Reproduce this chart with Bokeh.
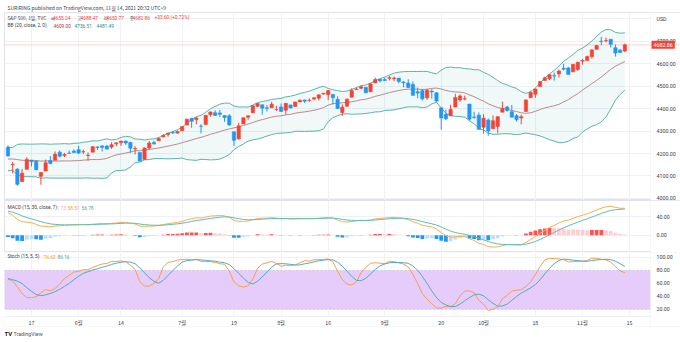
import numpy as np
import pandas as pd
from bokeh.plotting import figure
from bokeh.layouts import column
from bokeh.models import (Range1d, FixedTicker, Span, Label, ColumnDataSource,
                          BoxAnnotation, NumeralTickFormatter)
from bokeh.embed import file_html
from bokeh.resources import INLINE

# ---------------- data: S&P 500 daily, 2021-05-10 .. 2021-11-12 ----------------
dates = ["05-10","05-11","05-12","05-13","05-14","05-17","05-18","05-19","05-20","05-21",
         "05-24","05-25","05-26","05-27","05-28","06-01","06-02","06-03","06-04","06-07",
         "06-08","06-09","06-10","06-11","06-14","06-15","06-16","06-17","06-18","06-21",
         "06-22","06-23","06-24","06-25","06-28","06-29","06-30","07-01","07-02","07-06",
         "07-07","07-08","07-09","07-12","07-13","07-14","07-15","07-16","07-19","07-20",
         "07-21","07-22","07-23","07-26","07-27","07-28","07-29","07-30","08-02","08-03",
         "08-04","08-05","08-06","08-09","08-10","08-11","08-12","08-13","08-16","08-17",
         "08-18","08-19","08-20","08-23","08-24","08-25","08-26","08-27","08-30","08-31",
         "09-01","09-02","09-03","09-07","09-08","09-09","09-10","09-13","09-14","09-15",
         "09-16","09-17","09-20","09-21","09-22","09-23","09-24","09-27","09-28","09-29",
         "09-30","10-01","10-04","10-05","10-06","10-07","10-08","10-11","10-12","10-13",
         "10-14","10-15","10-18","10-19","10-20","10-21","10-22","10-25","10-26","10-27",
         "10-28","10-29","11-01","11-02","11-03","11-04","11-05","11-08","11-09","11-10",
         "11-11","11-12"]

opens = [4228.29,4150.34,4130.55,4074.99,4129.58,4169.92,4165.94,4098.45,4121.97,4168.61,
         4170.16,4205.94,4191.59,4201.94,4210.77,4216.52,4206.82,4191.43,4206.05,4229.34,
         4233.81,4232.99,4228.56,4242.90,4248.31,4255.28,4248.87,4220.37,4204.78,4173.40,
         4224.61,4249.27,4256.97,4274.45,4284.90,4293.21,4290.65,4300.73,4326.60,4356.46,
         4351.01,4321.07,4329.38,4372.41,4381.07,4380.11,4369.02,4367.43,4296.40,4265.11,
         4331.13,4361.27,4381.20,4409.58,4416.38,4402.95,4403.59,4395.12,4406.86,4392.74,
         4415.95,4408.86,4429.07,4437.77,4435.79,4442.18,4446.08,4464.84,4461.65,4462.12,
         4440.94,4382.44,4410.56,4450.29,4484.40,4490.45,4493.75,4474.10,4513.76,4529.75,
         4528.80,4534.48,4532.42,4535.38,4518.09,4513.02,4506.92,4474.81,4479.33,4447.49,
         4477.09,4469.74,4402.95,4374.45,4367.43,4406.75,4438.04,4442.12,4419.54,4362.41,
         4370.67,4317.16,4348.84,4309.87,4319.57,4383.73,4406.51,4385.44,4368.31,4358.01,
         4386.75,4447.69,4463.72,4497.34,4524.42,4532.24,4546.12,4553.69,4578.69,4580.22,
         4562.84,4572.87,4610.62,4613.34,4630.65,4662.93,4699.26,4701.48,4707.25,4670.26,
         4659.39,4655.24]
highs = [4236.39,4162.04,4134.73,4131.58,4183.13,4171.92,4169.15,4116.93,4172.80,4188.72,
         4209.52,4213.42,4202.61,4213.38,4218.36,4234.12,4217.37,4204.39,4233.45,4232.34,
         4236.74,4237.09,4249.74,4248.38,4255.59,4257.16,4251.89,4232.29,4204.78,4226.24,
         4255.84,4256.60,4271.28,4286.12,4292.14,4300.52,4302.43,4320.66,4355.43,4356.46,
         4361.88,4330.88,4371.60,4386.68,4392.37,4393.68,4369.02,4375.09,4296.40,4336.84,
         4359.70,4369.87,4415.18,4422.73,4416.38,4415.47,4429.97,4412.25,4422.18,4423.79,
         4416.17,4429.76,4440.82,4439.39,4445.21,4449.44,4461.77,4468.37,4480.26,4462.12,
         4454.32,4418.61,4444.35,4489.88,4492.81,4501.71,4495.90,4513.33,4537.36,4531.39,
         4537.11,4545.85,4541.45,4535.38,4521.79,4529.90,4520.47,4492.99,4485.68,4486.87,
         4485.87,4471.52,4402.95,4394.87,4416.75,4465.40,4463.12,4457.30,4419.54,4385.57,
         4382.55,4375.19,4355.51,4369.23,4365.57,4429.97,4412.02,4415.88,4374.89,4372.87,
         4439.73,4475.82,4488.75,4520.40,4540.87,4551.44,4559.67,4572.62,4598.53,4584.57,
         4597.55,4608.08,4620.34,4635.15,4663.46,4683.00,4718.50,4714.92,4708.53,4684.85,
         4664.55,4688.47]
lows = [4188.13,4111.53,4056.88,4074.99,4129.58,4142.69,4125.99,4061.41,4121.97,4151.72,
        4170.16,4182.52,4184.11,4197.78,4203.57,4197.59,4198.27,4167.93,4206.05,4215.66,
        4208.41,4218.74,4220.34,4232.25,4234.07,4238.35,4202.45,4196.05,4164.40,4173.40,
        4217.27,4241.43,4256.97,4271.16,4274.67,4286.67,4287.96,4300.73,4326.60,4314.37,
        4329.79,4289.37,4329.38,4364.03,4366.92,4362.36,4340.70,4322.53,4233.13,4262.05,
        4331.13,4350.06,4381.20,4405.45,4372.51,4387.01,4403.59,4389.65,4384.81,4373.00,
        4400.23,4408.86,4429.07,4424.74,4430.03,4436.42,4435.96,4460.82,4437.66,4417.83,
        4397.59,4367.73,4406.80,4450.29,4482.28,4485.66,4468.99,4474.10,4513.76,4515.80,
        4522.02,4524.66,4521.65,4513.00,4493.95,4492.07,4457.66,4445.70,4435.46,4438.37,
        4443.80,4427.76,4305.91,4347.96,4367.43,4406.75,4430.27,4436.19,4346.33,4355.08,
        4306.24,4288.52,4278.94,4309.87,4290.49,4383.73,4386.22,4360.59,4342.09,4329.92,
        4386.75,4447.69,4447.47,4496.41,4524.40,4526.89,4524.00,4537.36,4569.17,4551.66,
        4562.84,4567.59,4595.06,4613.34,4621.19,4662.59,4681.32,4694.39,4670.87,4630.86,
        4648.31,4650.77]
closes = [4188.43,4152.10,4063.04,4112.50,4173.85,4163.29,4127.83,4115.68,4159.12,4155.86,
          4197.05,4188.13,4195.99,4200.88,4204.11,4202.04,4208.12,4192.85,4229.89,4226.52,
          4227.26,4219.55,4239.18,4247.44,4255.15,4246.59,4223.70,4221.86,4166.45,4224.79,
          4246.44,4241.84,4266.49,4280.70,4290.61,4291.80,4297.50,4319.94,4352.34,4343.54,
          4358.13,4320.82,4369.55,4384.63,4369.21,4374.30,4360.03,4327.16,4258.49,4323.06,
          4358.69,4367.48,4411.79,4422.30,4401.46,4400.64,4419.15,4395.26,4387.16,4423.15,
          4402.66,4429.10,4436.52,4432.35,4436.75,4447.70,4460.83,4468.00,4479.71,4448.08,
          4400.27,4405.80,4441.67,4479.53,4486.23,4496.19,4470.00,4509.37,4528.79,4522.68,
          4524.09,4536.95,4535.43,4520.03,4514.07,4493.28,4458.58,4468.73,4443.05,4480.70,
          4473.75,4432.99,4357.73,4354.19,4395.64,4448.98,4455.48,4443.11,4352.63,4359.46,
          4307.54,4357.04,4300.46,4345.72,4363.55,4399.76,4391.34,4361.19,4350.65,4363.80,
          4438.26,4471.37,4486.46,4519.63,4536.19,4549.78,4544.90,4566.48,4574.79,4551.68,
          4596.42,4605.38,4613.67,4630.65,4660.57,4680.06,4697.53,4701.70,4685.25,4646.71,
          4649.27,4682.86]

# history before the first visible bar (indicator warm-up only)
prior_close = [3773.86,3826.31,3830.17,3871.74,3886.83,3915.59,3911.23,3909.88,3916.38,3934.83,
               3932.59,3931.33,3913.97,3906.71,3876.50,3881.37,3925.43,3829.34,3811.15,
               3901.82,3870.29,3819.72,3768.47,3841.94,3821.35,3875.44,3898.81,3939.34,3943.34,
               3968.94,3962.71,3974.12,3915.46,3913.10,3940.59,3910.52,3889.14,3909.52,3974.54,
               3971.09,3958.55,3972.89,
               4019.87,4077.91,4073.94,4079.95,4097.17,4128.80,4127.99,4141.59,4124.66,4170.42,
               4185.47,4163.26,4134.94,4173.42,4134.98,4180.17,4187.62,4186.72,4183.18,4211.47,
               4181.17,4192.66,4164.66,4167.59,4201.62,4232.60]
prior_high = [4020.63,4083.42,4086.23,4083.13,4098.19,4129.48,4131.76,4148.00,4151.69,4173.49,
              4191.31,4180.81,4159.18,4175.02,4179.57,4194.17,4194.19,4193.35,4201.53,4218.78,
              4198.10,4209.39,4179.04,4187.72,4202.70,4238.04]
prior_low = [3992.78,4034.44,4068.14,4068.31,4082.54,4095.51,4114.82,4124.43,4120.87,4139.76,
             4170.75,4150.47,4118.38,4126.35,4123.69,4138.78,4182.36,4176.22,4181.78,4176.81,
             4174.85,4188.03,4128.59,4160.94,4147.33,4201.64]

tick_dates = ["05-17","06-01","06-14","07-01","07-19","08-02","08-16","09-01","09-20","10-01","10-18","11-01","11-15"]
tick_labels = ["17","6월","14","7월","19","8월","16","9월","20","10월","18","11월","15"]
price_ticks = [4000, 4100, 4200, 4300, 4400, 4500, 4600, 4700, 4800]
macd_ticks = [0, 40]
stoch_ticks = [20, 40, 60, 80, 100]

header = "SURIRING published on TradingView.com, 11월 14, 2021 20:32 UTC+9"
footer = "TradingView"
ohlc_legend = ["4655.24", "4688.47", "4650.77", "4682.86", "+33.60 (+0.72%)"]
bb_legend = ["4609.00", "4736.51", "4481.49"]
macd_legend = ["1.73", "58.51", "56.78"]
stoch_legend = ["76.63", "86.16"]

# ---------------- indicators ----------------
n = len(closes)
c_all = pd.Series(prior_close + closes)
ema_f = c_all.ewm(span=15, adjust=False).mean()
ema_s = c_all.ewm(span=30, adjust=False).mean()
macd_all = ema_f - ema_s
sig_all = macd_all.ewm(span=7, adjust=False).mean()
macd = macd_all.values[-n:]
sig = sig_all.values[-n:]
hist_all = (macd_all - sig_all).values
hist = hist_all[-n:]
hprev = hist_all[-n-1:-1]

basis = c_all.rolling(20).mean().values[-n:]
sd = c_all.rolling(20).std(ddof=0).values[-n:]
upper = basis + 2 * sd
lower = basis - 2 * sd

k_hist = len(prior_high)
hh = pd.Series(prior_high + highs).rolling(15, min_periods=1).max()
ll = pd.Series(prior_low + lows).rolling(15, min_periods=1).min()
cc = pd.Series(prior_close[-k_hist:] + closes)
raw_k = 100 * (cc - ll) / (hh - ll)
k_s = raw_k.rolling(5, min_periods=1).mean()
d_s = k_s.rolling(5, min_periods=1).mean()
stoch_k = k_s.values[-n:]
stoch_d = d_s.values[-n:]

# ---------------- style ----------------
UP = "#F44336"
DOWN = "#2196F3"
GRID = "#EFF1F5"
BORDER = "#E0E3EB"
TXT = "#3b3e48"
FONT = "Roboto"
KFONT = "Noto Sans CJK KR"
AFS = "5.3px"     # axis labels
LFS = "4.8px"     # legend texts

x = np.arange(n)
idx_of = {d: i for i, d in enumerate(dates)}
tick_idx = [idx_of.get(d, n) for d in tick_dates]

LEFT = 4
XR = Range1d(-0.735, 142.82)   # frame spans the price-scale strip too
SEP = 136.45                   # price-scale separator (bar-index units)


def pane(y0, y1, ticks, top=0, bottom=0, **size):
    p = figure(width=680, x_range=XR, y_range=Range1d(y0, y1),
               y_axis_location="right", output_backend="svg", toolbar_location=None,
               tools="", min_border_left=LEFT, min_border_right=0,
               min_border_top=top, min_border_bottom=bottom, **size)
    p.background_fill_color = "white"
    p.border_fill_color = "white"
    p.outline_line_color = BORDER
    ax = p.yaxis[0]
    ax.ticker = FixedTicker(ticks=ticks)
    ax.formatter = NumeralTickFormatter(format="0.00")
    ax.major_tick_line_color = None
    ax.minor_tick_line_color = None
    ax.axis_line_color = None
    ax.major_label_standoff = -30
    ax.major_label_text_font_size = AFS
    ax.major_label_text_font = FONT
    ax.major_label_text_color = TXT
    p.xgrid.ticker = FixedTicker(ticks=tick_idx)
    p.xgrid.grid_line_color = GRID
    p.ygrid.grid_line_color = GRID
    return p


def cover_strip(p, bottom=None):
    p.add_layout(BoxAnnotation(left=SEP, bottom=bottom, fill_color="white", fill_alpha=1,
                               line_color=BORDER, line_width=1, level="underlay"))


def text(p, bottom_page, px, py, s, color, font=FONT, size=LFS, style="normal"):
    p.add_layout(Label(x=px - LEFT, y=bottom_page - py, x_units="screen", y_units="screen",
                       text=s, text_color=color, text_font=font, text_font_size=size,
                       text_font_style=style, text_baseline="middle", text_align="left"))


# ---------------- main pane ----------------
pm = pane(3991.1, 4826.7, price_ticks, top=12, bottom=0, height=200)
pm.xaxis.visible = False
pm.yaxis[0].major_label_overrides = {4800: "USD"}
pm.title.text = header
pm.title.text_font = KFONT
pm.title.text_font_size = "5px"
pm.title.text_font_style = "normal"
pm.title.text_color = TXT
pm.title.align = "left"
pm.title.offset = 3
pm.title.standoff = 3
cover_strip(pm)

pm.varea(x=x, y1=lower, y2=upper, fill_color="#198787", fill_alpha=0.06)
pm.line(x, upper, line_color="#5DB3A8", line_width=1)
pm.line(x, lower, line_color="#5DB3A8", line_width=1)
pm.line(x, basis, line_color="#B98A8C", line_width=1)

o = np.array(opens); h = np.array(highs); l = np.array(lows); c = np.array(closes)
col = np.where(c >= o, UP, DOWN)
src = ColumnDataSource(dict(x=x, h=h, l=l, top=np.maximum(o, c), bot=np.minimum(o, c), col=col))
pm.segment("x", "h", "x", "l", line_color="col", line_width=1, source=src)
pm.vbar("x", 0.7, "top", "bot", fill_color="col", line_color="col", line_width=0.6, source=src)

pm.add_layout(Span(location=closes[-1], dimension="width", line_color=UP, line_alpha=0.45,
                   line_dash="1 1", line_width=1))
pm.add_layout(Label(x=SEP, y=closes[-1], text=f"{closes[-1]:.2f}", text_color="white",
                    text_font=FONT, text_font_size=AFS, text_baseline="middle", text_align="left",
                    background_fill_color=UP, x_offset=1, padding=2))

text(pm, 200, 7, 17, "S&P 500, 1일, TVC", TXT, font=KFONT)
for lab, xp, val, xv in [("시", 50, ohlc_legend[0], 52.5), ("고", 77, ohlc_legend[1], 80),
                         ("저", 103, ohlc_legend[2], 106), ("종", 129, ohlc_legend[3], 132)]:
    text(pm, 200, xp, 17, lab, TXT, font=KFONT)
    text(pm, 200, xv, 17, val, UP)
text(pm, 200, 154, 17, ohlc_legend[4], UP)
text(pm, 200, 7, 25, "BB (20, close, 2, 0)", TXT)
text(pm, 200, 53, 25, bb_legend[0], "#9E3B3B")
text(pm, 200, 74, 25, bb_legend[1], "#1E8E84")
text(pm, 200, 96, 25, bb_legend[2], "#1E8E84")

# ---------------- MACD pane ----------------
pmacd = pane(-37.6, 75.4, macd_ticks, height=52)
pmacd.xaxis.visible = False
cover_strip(pmacd)
hcol = np.where(hist >= 0, np.where(hist > hprev, "#FF5252", "#FFCDD2"),
                np.where(hist < hprev, "#2196F3", "#BBDEFB"))
pmacd.vbar(x=x, width=0.8, top=hist, bottom=0, fill_color=hcol, line_color=None)
pmacd.line(x, macd, line_color="#F8AE55", line_width=1)
pmacd.line(x, sig, line_color="#62BDAF", line_width=1)
text(pmacd, 252, 7, 207, "MACD (15, 30, close, 7)", TXT)
text(pmacd, 252, 56, 207, macd_legend[0], "#F4A7B2")
text(pmacd, 252, 67, 207, macd_legend[1], "#F29C38")
text(pmacd, 252, 81, 207, macd_legend[2], "#3FAE9E")

# ---------------- Stoch pane; its frame runs to the page bottom (date strip + footer) ----------------
S_TOP = 8.63     # stoch value at the date strip's top edge
S_BOT = -6.85    # stoch value at the date strip's bottom edge
pst = pane(-31.6, 107.7, stoch_ticks, bottom=0, frame_height=90)
pst.outline_line_color = None
pst.add_layout(BoxAnnotation(bottom=20, top=80, right=SEP, fill_color="#E5CCFA", fill_alpha=1,
                             line_color="#9A8DB4", line_dash="2 2", line_width=1,
                             level="underlay"))
pst.add_layout(BoxAnnotation(top=S_TOP, fill_color="white", fill_alpha=1,
                             line_color=None, level="underlay"))
pst.add_layout(BoxAnnotation(top=S_TOP, bottom=S_BOT, fill_alpha=0,
                             line_color=BORDER, line_width=1, level="underlay"))
pst.add_layout(BoxAnnotation(bottom=S_TOP, fill_alpha=0,
                             line_color=BORDER, line_width=1, level="underlay"))
cover_strip(pst, bottom=S_BOT)
pst.line(x, stoch_k, line_color="#F5A04A", line_width=1)
pst.line(x, stoch_d, line_color="#55A9C4", line_width=1)
xa = pst.xaxis[0]
xa.ticker = FixedTicker(ticks=tick_idx)
xa.major_label_overrides = {int(i): t for i, t in zip(tick_idx, tick_labels)}
xa.major_tick_line_color = None
xa.minor_tick_line_color = None
xa.axis_line_color = None
xa.major_label_standoff = -30
xa.major_label_text_font = KFONT
xa.major_label_text_font_size = AFS
xa.major_label_text_color = TXT
text(pst, 342, 7, 256, "Stoch (15, 5, 5)", TXT)
text(pst, 342, 43, 256, stoch_legend[0], "#F29C38")
text(pst, 342, 57, 256, stoch_legend[1], "#3FAE9E")
text(pst, 342, 4, 333, "TV", "#131722", size="6px", style="bold")
text(pst, 342, 13, 333, footer, "#50535E", size="5.3px")

layout = column(pm, pmacd, pst, spacing=0)
open("out.html", "w").write(file_html(layout, INLINE))
